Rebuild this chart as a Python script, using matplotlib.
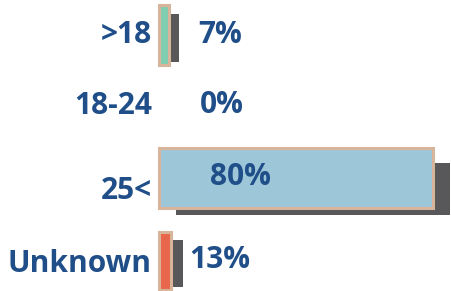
import matplotlib.pyplot as plt
from matplotlib.patches import Rectangle

categories = [">18", "18-24", "25<", "Unknown"]
value_labels = ["7%", "0%", "80%", "13%"]
# drawn bar lengths (the picture does not draw the small bars to scale)
bar_lengths = [2.9, 0, 80, 3.5]
bar_colors = ["#80cdb2", "#9ec6d9", "#9ec6d9", "#e8664b"]

# layout (pixel rows, y grows downward)
row_y = [35, 105, 178, 261]
bar_h = [60, 60, 60, 58]
cat_dy = [0, 1, 13, 3]
val_dx = [39, 41, 51, 30]
val_dy = [0, 0, -1, -1]
# shadow offsets in pixels: shift right, top inset, bottom overhang
sh_dx = [10, 0, 17, 12]
sh_top = [9, 0, 15, 8]
sh_bot = [-3, 0, 7, -3]

text_color = "#1f4e88"
edge_color = "#d8b49b"
shadow_color = "#58585a"

px_per_unit = 274 / 80
x0 = 159

fig = plt.figure(figsize=(4.51, 2.91), dpi=100)
ax = fig.add_axes([0, 0, 1, 1])
ax.set_xlim(-x0 / px_per_unit, (451 - x0) / px_per_unit)
ax.set_ylim(291, 0)
ax.axis("off")

font = dict(family=["Open Sans", "DejaVu Sans"], weight="bold", color=text_color, fontsize=21.5)

for i, cat in enumerate(categories):
    y = row_y[i]
    w = bar_lengths[i]
    h = bar_h[i]
    if w > 0:
        top = y - h / 2
        ax.add_patch(Rectangle((sh_dx[i] / px_per_unit, top + sh_top[i]),
                               w, h - sh_top[i] + sh_bot[i],
                               facecolor=shadow_color, edgecolor="none", zorder=1))
        ax.add_patch(Rectangle((0, top), w, h,
                               facecolor=bar_colors[i], edgecolor=edge_color,
                               linewidth=2.2, zorder=2))
    ax.annotate(cat, (0, y + cat_dy[i]), xytext=(-7, 0), textcoords="offset pixels",
                ha="right", va="center", **font)
    ax.annotate(value_labels[i], (0, y + val_dy[i]), xytext=(val_dx[i], 0),
                textcoords="offset pixels", ha="left", va="center", zorder=3, **font)

fig.savefig("out.png", dpi=100)
